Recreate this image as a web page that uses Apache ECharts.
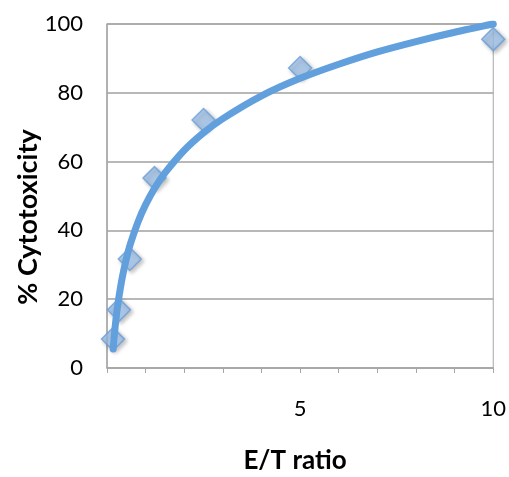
<!DOCTYPE html>
<html><head><meta charset="utf-8">
<script src="https://cdn.jsdelivr.net/npm/echarts@6/dist/echarts.min.js"></script>
<style>html,body{margin:0;padding:0;background:#fff}#c{width:509px;height:477px}</style>
</head><body><div id="c"></div>
<script>
// measured points (E/T ratio, % cytotoxicity)
const etRatio = [0.156, 0.31, 0.59, 1.23, 2.5, 5, 10];
const cytotoxicity = [8.4, 16.9, 31.7, 55.2, 72.1, 87.2, 95.6];
// trendline
const trendX = [0.16, 0.2, 0.25, 0.3, 0.4, 0.5, 0.6, 0.8, 1, 1.25, 1.5, 2, 2.5, 3, 4, 5, 6, 7, 8, 9, 10];
const trendY = [5.5, 10.8, 15.9, 20.0, 26.6, 31.7, 35.9, 42.4, 47.5, 52.6, 56.7, 63.3, 68.4, 72.5, 79.1, 84.2, 88.3, 91.9, 94.9, 97.6, 100.0];
const xLabelValues = [5, 10];
const yTicks = [0, 20, 40, 60, 80, 100];
const xTitle = 'E/T ratio';
const yTitle = '% Cytotoxicity';

const chart = echarts.init(document.getElementById('c'));
const font = 'Lato, "Open Sans", sans-serif';
chart.setOption({
  animation: false,
  graphic: [
    {type: 'text', x: 295, y: 461,
      style: {text: xTitle, font: 'bold 26px ' + font, fill: '#000', textAlign: 'center', textVerticalAlign: 'middle'}},
    {type: 'text', x: 28, y: 217, rotation: Math.PI / 2,
      style: {text: yTitle, font: 'bold 27px ' + font, fill: '#000', textAlign: 'center', textVerticalAlign: 'middle'}}
  ],
  grid: {left: 107, right: 12, top: 24, bottom: 109, show: true, borderColor: '#a6a6a6', borderWidth: 1},
  xAxis: {
    type: 'value', min: 0, max: 10, interval: 1,
    axisLine: {lineStyle: {color: '#a6a6a6', width: 1.5}},
    axisTick: {show: true, length: 5, lineStyle: {color: '#a6a6a6'}},
    axisLabel: {margin: 30, fontFamily: font, fontSize: 22, color: '#000',
      formatter: v => xLabelValues.includes(v) ? String(v) : ''},
    splitLine: {show: false}
  },
  yAxis: {
    type: 'value', min: yTicks[0], max: yTicks[yTicks.length - 1], interval: 20,
    axisLine: {show: true, lineStyle: {color: '#a6a6a6', width: 1.5}},
    axisTick: {show: false},
    axisLabel: {margin: 24, fontFamily: font, fontSize: 22, color: '#000'},
    splitLine: {lineStyle: {color: '#a0a0a0', width: 1.5}}
  },
  series: [
    {
      type: 'scatter', symbol: 'diamond', symbolSize: 23, z: 2,
      data: etRatio.map((x, i) => [x, cytotoxicity[i]]),
      itemStyle: {color: '#a4c5ec', borderColor: '#6a9fd9', borderWidth: 1.5,
        shadowBlur: 4, shadowColor: 'rgba(0,0,0,0.3)', shadowOffsetX: 2, shadowOffsetY: 2}
    },
    {
      type: 'line', showSymbol: false, smooth: 0.3, z: 3,
      data: trendX.map((x, i) => [x, trendY[i]]),
      lineStyle: {color: '#62a0dd', width: 7, cap: 'round', join: 'round'}
    }
  ]
});
</script></body></html>
